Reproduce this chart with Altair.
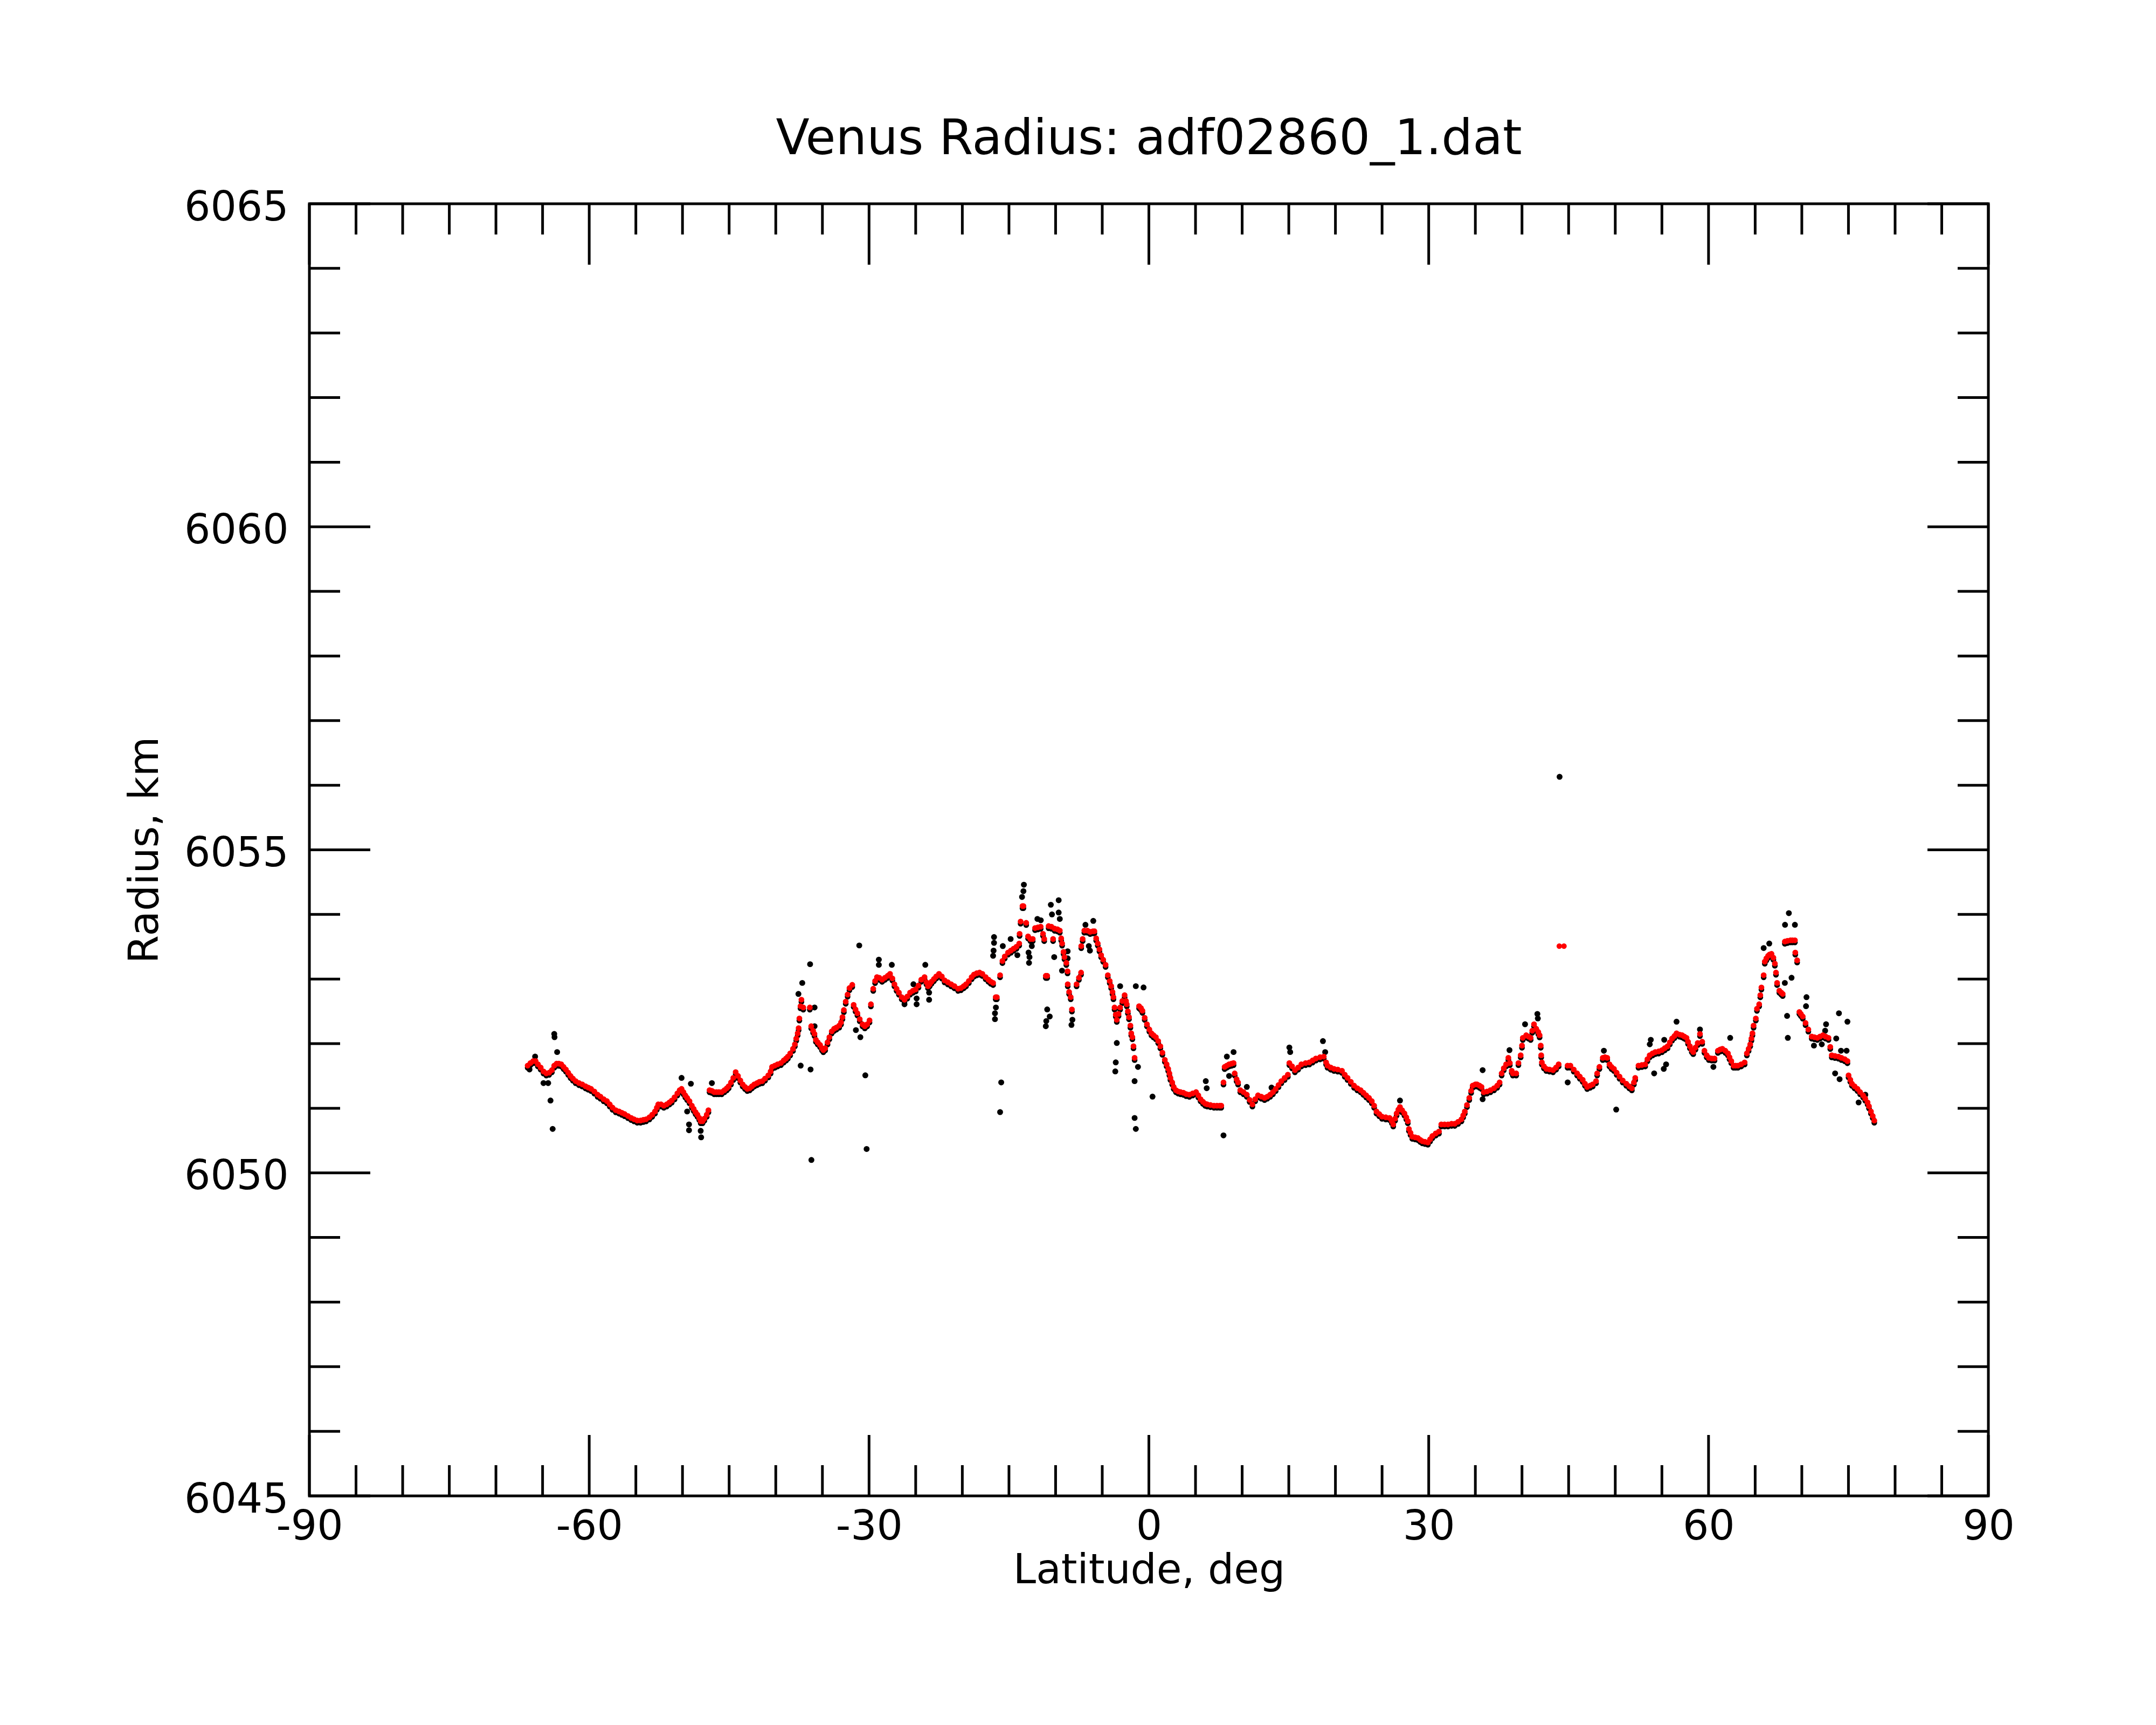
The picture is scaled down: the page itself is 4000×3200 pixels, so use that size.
import altair as alt
import pandas as pd

# ---------------- data ----------------
# smoothed radius profile (red)
red_lat = [
 -66.6, -66.3, -66.0, -65.75, -65.5, -65.2, -64.9, -64.6, -64.3, -64.0,
 -63.75, -63.5, -63.25, -63.0, -62.75, -62.5, -62.25, -62.0, -61.75, -61.45,
 -61.1, -60.75, -60.4, -60.1, -59.8, -59.45, -59.1, -58.8, -58.45, -58.1,
 -57.8, -57.5, -57.15, -56.8, -56.5, -56.2, -55.85, -55.5, -55.2, -54.85,
 -54.5, -54.2, -53.9, -53.55, -53.25, -52.95, -52.75, -52.6, -52.3, -52.0,
 -51.7, -51.4, -51.15, -50.85, -50.55, -50.3, -50.1, -49.9, -49.7, -49.5,
 -49.25, -49.0, -48.8, -48.6, -48.4, -48.2, -48.05, -47.85, -47.65, -47.4,
 -47.22, -47.1, -46.85, -46.6, -46.35, -46.1, -45.8, -45.5, -45.25, -45.05,
 -44.8, -44.55, -44.3, -44.05, -43.8, -43.55, -43.3, -43.05, -42.8, -42.55,
 -42.3, -42.0, -41.75, -41.45, -41.15, -40.8, -40.55, -40.4, -40.1, -39.8,
 -39.45, -39.15, -38.9, -38.7, -38.45, -38.15, -37.95, -37.8, -37.65, -37.55,
 -37.47, -37.35, -37.25, -37.05, -36.35, -36.2, -36.0, -35.85, -35.7, -35.5,
 -35.25, -35.05, -34.9, -34.7, -34.45, -34.25, -34.0, -33.75, -33.5, -33.2,
 -33.0, -32.85, -32.7, -32.5, -32.3, -32.1, -31.8, -31.65, -31.45, -31.25,
 -31.0, -30.7, -30.45, -30.2, -29.95, -29.8, -29.55, -29.35, -29.15, -28.9,
 -28.6, -28.3, -28.0, -27.75, -27.5, -27.28, -27.05, -26.8, -26.5, -26.2,
 -25.9, -25.6, -25.3, -25.0, -24.7, -24.4, -24.05, -23.85, -23.68, -23.5,
 -23.3, -23.05, -22.8, -22.5, -22.2, -21.9, -21.55, -21.2, -20.85, -20.45,
 -20.15, -19.85, -19.6, -19.3, -19.0, -18.75, -18.45, -18.15, -17.85, -17.5,
 -17.2, -16.95, -16.7, -16.42, -16.3, -15.95, -15.7, -15.45, -15.1, -14.8,
 -14.5, -14.2, -13.9, -13.86, -13.75, -13.55, -13.45, -13.15, -12.95, -12.7,
 -12.45, -12.2, -11.9, -11.6, -11.35, -11.22, -11.05, -10.9, -10.75, -10.45,
 -10.27, -10.1, -9.8, -9.55, -9.4, -9.3, -9.15, -9.05, -8.85, -8.72,
 -8.7, -8.55, -8.38, -8.25, -7.75, -7.5, -7.27, -7.25, -7.1, -6.92,
 -6.6, -6.3, -6.0, -5.84, -5.65, -5.48, -5.3, -5.12, -4.9, -4.64,
 -4.4, -4.2, -4.04, -3.9, -3.8, -3.68, -3.55, -3.44, -3.25, -3.08,
 -2.85, -2.6, -2.45, -2.37, -2.25, -2.13, -1.98, -1.89, -1.77, -1.65,
 -1.53, -1.05, -0.85, -0.69, -0.45, -0.21, 0.05, 0.27, 0.5, 0.75,
 1.0, 1.23, 1.45, 1.71, 1.9, 2.07, 2.2, 2.31, 2.5, 2.66,
 2.9, 3.15, 3.4, 3.7, 4.0, 4.34, 4.7, 5.06, 5.3, 5.54,
 5.8, 6.05, 6.26, 6.6, 6.98, 7.3, 7.6, 7.76, 8.0, 8.12,
 8.35, 8.6, 8.85, 9.08, 9.2, 9.4, 9.56, 9.8, 10.15, 10.5,
 10.8, 11.1, 11.4, 11.7, 12.05, 12.4, 12.7, 13.0, 13.3, 13.6,
 13.9, 14.2, 14.55, 14.9, 15.06, 15.35, 15.66, 16.0, 16.35, 16.8,
 17.2, 17.55, 17.9, 18.35, 18.75, 19.0, 19.15, 19.5, 19.85, 20.25,
 20.7, 21.0, 21.3, 21.65, 22.0, 22.35, 22.7, 23.0, 23.3, 23.6,
 23.9, 24.15, 24.4, 24.7, 25.0, 25.4, 25.8, 26.05, 26.2, 26.4,
 26.56, 26.75, 26.92, 27.15, 27.4, 27.6, 27.76, 27.88, 28.05, 28.24,
 28.55, 28.84, 29.1, 29.32, 29.6, 29.91, 30.15, 30.39, 30.75, 31.1,
 31.35, 31.7, 32.07, 32.45, 32.79, 33.15, 33.51, 33.7, 33.87, 34.1,
 34.35, 34.55, 34.71, 35.0, 35.18, 35.45, 35.66, 35.9, 36.25, 36.62,
 37.0, 37.34, 37.6, 37.82, 38.05, 38.3, 38.54, 38.7, 38.9, 39.02,
 39.38, 39.62, 39.86, 40.0, 40.09, 40.45, 40.7, 40.93, 41.1, 41.29,
 41.53, 41.75, 41.89, 42.01, 42.06, 42.13, 42.35, 42.61, 42.95, 43.33,
 43.65, 43.93, 44.89, 45.19, 45.55, 45.91, 46.2, 46.51, 46.75, 46.99,
 47.3, 47.58, 47.94, 48.06, 48.3, 48.66, 48.9, 49.14, 49.38, 49.6,
 49.86, 50.15, 50.46, 50.8, 51.18, 51.5, 51.78, 52.0, 52.14, 52.49,
 52.85, 53.21, 53.45, 53.69, 54.0, 54.29, 54.65, 55.01, 55.3, 55.61,
 55.85, 56.09, 56.35, 56.57, 56.9, 57.17, 57.4, 57.64, 57.8, 58.0,
 58.2, 58.36, 58.6, 58.84, 59.08, 59.32, 59.56, 59.8, 60.04, 60.35,
 60.64, 61.0, 61.25, 61.48, 61.8, 62.08, 62.25, 62.44, 62.68, 62.9,
 63.15, 63.5, 63.87, 64.11, 64.3, 64.47, 64.6, 64.71, 64.83, 65.07,
 65.19, 65.43, 65.55, 65.67, 65.91, 66.03, 66.2, 66.39, 66.55, 66.75,
 66.95, 67.11, 67.23, 67.35, 67.59, 67.8, 67.95, 68.18, 68.45, 68.78,
 69.0, 69.26, 69.3, 69.5, 69.74, 69.9, 70.1, 70.4, 70.7, 71.06,
 71.35, 71.66, 71.95, 72.26, 72.55, 72.86, 73.05, 73.21, 73.55, 73.93,
 74.25, 74.6, 74.89, 75.01, 75.2, 75.37, 75.65, 75.97, 76.25, 76.57,
 76.8, 77.05, 77.2, 77.41, 77.6, 77.77,
]
red_rad = [
 6051.66, 6051.70, 6051.73, 6051.73, 6051.68, 6051.63, 6051.57, 6051.54, 6051.55, 6051.59,
 6051.66, 6051.69, 6051.69, 6051.68, 6051.64, 6051.60, 6051.55, 6051.50, 6051.46, 6051.42,
 6051.39, 6051.37, 6051.34, 6051.32, 6051.30, 6051.26, 6051.21, 6051.18, 6051.14, 6051.11,
 6051.06, 6051.01, 6050.97, 6050.95, 6050.93, 6050.91, 6050.88, 6050.85, 6050.83, 6050.81,
 6050.81, 6050.82, 6050.83, 6050.86, 6050.90, 6050.95, 6051.01, 6051.06, 6051.06, 6051.04,
 6051.06, 6051.09, 6051.12, 6051.17, 6051.23, 6051.28, 6051.30, 6051.25, 6051.20, 6051.16,
 6051.11, 6051.04, 6050.99, 6050.94, 6050.90, 6050.85, 6050.80, 6050.80, 6050.84, 6050.90,
 6050.97, 6051.28, 6051.27, 6051.25, 6051.25, 6051.25, 6051.25, 6051.28, 6051.31, 6051.34,
 6051.40, 6051.47, 6051.56, 6051.50, 6051.43, 6051.37, 6051.33, 6051.30, 6051.31, 6051.34,
 6051.37, 6051.39, 6051.41, 6051.42, 6051.46, 6051.51, 6051.57, 6051.64, 6051.66, 6051.68,
 6051.70, 6051.74, 6051.77, 6051.80, 6051.85, 6051.92, 6051.99, 6052.08, 6052.16, 6052.24,
 6052.39, 6052.58, 6052.68, 6052.56, 6052.56, 6052.27, 6052.20, 6052.15, 6052.06, 6052.02,
 6051.98, 6051.93, 6051.90, 6051.93, 6052.02, 6052.10, 6052.19, 6052.23, 6052.25, 6052.28,
 6052.33, 6052.41, 6052.52, 6052.65, 6052.76, 6052.86, 6052.91, 6052.60, 6052.53, 6052.47,
 6052.38, 6052.30, 6052.27, 6052.30, 6052.36, 6052.61, 6052.85, 6052.97, 6053.03, 6053.02,
 6052.99, 6053.02, 6053.05, 6053.08, 6053.01, 6052.92, 6052.85, 6052.79, 6052.72, 6052.68,
 6052.73, 6052.79, 6052.82, 6052.84, 6052.90, 6052.99, 6053.03, 6052.95, 6052.89, 6052.92,
 6052.96, 6053.00, 6053.04, 6053.08, 6053.04, 6052.98, 6052.95, 6052.92, 6052.89, 6052.85,
 6052.86, 6052.89, 6052.92, 6052.97, 6053.03, 6053.07, 6053.09, 6053.10, 6053.08, 6053.03,
 6052.99, 6052.96, 6052.94, 6052.72, 6052.72, 6053.06, 6053.28, 6053.35, 6053.41, 6053.44,
 6053.47, 6053.50, 6053.55, 6053.70, 6053.89, 6054.13, 6054.13, 6053.87, 6053.66, 6053.62,
 6053.62, 6053.79, 6053.80, 6053.81, 6053.70, 6053.62, 6053.05, 6053.05, 6053.82, 6053.81,
 6053.62, 6053.78, 6053.77, 6053.75, 6053.63, 6053.55, 6053.42, 6053.34, 6053.25, 6053.12,
 6052.92, 6052.80, 6052.72, 6052.53, 6052.92, 6053.02, 6053.10, 6053.51, 6053.62, 6053.75,
 6053.75, 6053.73, 6053.74, 6053.74, 6053.63, 6053.55, 6053.46, 6053.37, 6053.30, 6053.22,
 6053.06, 6052.97, 6052.89, 6052.80, 6052.72, 6052.56, 6052.45, 6052.37, 6052.46, 6052.56,
 6052.66, 6052.75, 6052.66, 6052.61, 6052.50, 6052.41, 6052.28, 6052.16, 6052.10, 6051.96,
 6051.78, 6052.58, 6052.55, 6052.51, 6052.40, 6052.30, 6052.22, 6052.16, 6052.13, 6052.10,
 6052.04, 6051.96, 6051.86, 6051.75, 6051.68, 6051.61, 6051.54, 6051.47, 6051.40, 6051.33,
 6051.28, 6051.26, 6051.25, 6051.24, 6051.22, 6051.21, 6051.23, 6051.25, 6051.20, 6051.14,
 6051.10, 6051.07, 6051.06, 6051.05, 6051.04, 6051.04, 6051.04, 6051.04, 6051.40, 6051.64,
 6051.66, 6051.68, 6051.69, 6051.70, 6051.54, 6051.45, 6051.40, 6051.28, 6051.25, 6051.21,
 6051.13, 6051.06, 6051.14, 6051.20, 6051.18, 6051.16, 6051.18, 6051.21, 6051.25, 6051.30,
 6051.36, 6051.42, 6051.47, 6051.52, 6051.70, 6051.65, 6051.59, 6051.63, 6051.68, 6051.70,
 6051.71, 6051.74, 6051.77, 6051.79, 6051.80, 6051.71, 6051.66, 6051.63, 6051.61, 6051.60,
 6051.58, 6051.52, 6051.47, 6051.41, 6051.35, 6051.31, 6051.28, 6051.24, 6051.20, 6051.16,
 6051.11, 6051.04, 6050.95, 6050.91, 6050.87, 6050.86, 6050.85, 6050.80, 6050.75, 6050.84,
 6050.92, 6050.98, 6051.02, 6050.97, 6050.92, 6050.86, 6050.80, 6050.68, 6050.62, 6050.56,
 6050.55, 6050.54, 6050.51, 6050.49, 6050.48, 6050.47, 6050.52, 6050.57, 6050.61, 6050.64,
 6050.75, 6050.75, 6050.75, 6050.76, 6050.76, 6050.79, 6050.83, 6050.89, 6050.95, 6051.05,
 6051.16, 6051.27, 6051.35, 6051.37, 6051.37, 6051.35, 6051.33, 6051.25, 6051.26, 6051.28,
 6051.31, 6051.35, 6051.40, 6051.54, 6051.62, 6051.68, 6051.78, 6051.70, 6051.58, 6051.54,
 6051.54, 6051.70, 6051.82, 6051.97, 6052.09, 6052.13, 6052.11, 6052.09, 6052.20, 6052.30,
 6052.23, 6052.18, 6052.13, 6051.97, 6051.82, 6051.71, 6051.65, 6051.61, 6051.60, 6051.59,
 6051.63, 6051.68, 6051.66, 6051.66, 6051.60, 6051.54, 6051.49, 6051.44, 6051.38, 6051.33,
 6051.35, 6051.37, 6051.42, 6051.54, 6051.64, 6051.78, 6051.79, 6051.78, 6051.68, 6051.64,
 6051.61, 6051.55, 6051.49, 6051.43, 6051.38, 6051.34, 6051.31, 6051.40, 6051.47, 6051.66,
 6051.67, 6051.68, 6051.76, 6051.82, 6051.85, 6051.87, 6051.88, 6051.90, 6051.93, 6051.96,
 6052.02, 6052.08, 6052.12, 6052.16, 6052.14, 6052.13, 6052.11, 6052.09, 6052.03, 6051.96,
 6051.90, 6051.87, 6051.94, 6052.01, 6052.15, 6052.03, 6051.89, 6051.82, 6051.78, 6051.77,
 6051.77, 6051.89, 6051.91, 6051.92, 6051.89, 6051.85, 6051.79, 6051.73, 6051.66, 6051.66,
 6051.66, 6051.68, 6051.71, 6051.85, 6051.92, 6051.99, 6052.08, 6052.16, 6052.28, 6052.39,
 6052.54, 6052.61, 6052.75, 6052.87, 6053.06, 6053.27, 6053.32, 6053.36, 6053.38, 6053.39,
 6053.33, 6053.24, 6053.10, 6052.94, 6052.82, 6052.79, 6052.77, 6053.58, 6053.59, 6053.60,
 6053.60, 6053.60, 6053.41, 6053.29, 6052.49, 6052.46, 6052.42, 6052.32, 6052.22, 6052.11,
 6052.10, 6052.09, 6052.11, 6052.13, 6052.11, 6052.09, 6051.95, 6051.82, 6051.81, 6051.80,
 6051.78, 6051.76, 6051.73, 6051.51, 6051.44, 6051.38, 6051.34, 6051.30, 6051.25, 6051.20,
 6051.15, 6051.09, 6051.03, 6050.95, 6050.88, 6050.81,
]
# isolated smoothed pair near the big spike
red_extra_lat = [44.0, 44.5]
red_extra_rad = [6053.51, 6053.51]

# raw measurements that stand apart from the smoothed profile (black)
blk_lat = [
 -66.4, -65.8, -64.9, -64.4, -64.15, -63.92, -63.75, -63.72, -63.44, -50.1,
 -49.1, -49.5, -49.3, -49.3, -48.05, -48.0, -46.85, -37.57, -37.16, -36.32,
 -37.33, -36.27, -36.18, -35.84, -35.84, -31.05, -31.41, -30.93, -30.40, -30.26,
 -28.95, -28.95, -27.56, -26.2, -25.24, -24.9, -24.9, -23.97, -23.56, -23.56,
 -16.6, -16.6, -16.65, -16.7, -16.4, -16.5, -16.5, -15.83, -15.95, -13.4,
 -13.45, -13.6, -15.66, -14.82, -14.1, -12.9, -12.8, -12.85, -12.55, -11.95,
 -11.59, -10.9, -11.0, -11.05, -10.63, -10.51, -9.67, -10.39, -9.67, -9.55,
 -10.15, -8.71, -8.71, -8.2, -8.3, -9.31, -5.96, -6.8, -6.44, -6.32,
 -3.08, -3.44, -3.55, -3.6, -1.53, -1.53, -1.4, -1.4, -0.57, -1.17,
 0.39, 6.1, 6.2, 8.0, 8.36, 9.08, 8.6, 10.5, 13.15, 15.06,
 15.15, 18.66, 18.9, 26.92, 35.78, 35.78, 38.66, 40.33, 41.65, 41.7,
 44.9, 44.03, 48.78, 50.1, 53.81, 53.7, 55.25, 54.17, 55.2, 55.45,
 56.57, 59.08, 60.52, 62.32, 66.51, 65.91, 68.61, 68.2, 69.26, 68.9,
 68.18, 68.42, 68.50, 70.5, 70.45, 72.6, 72.5, 73.98, 74.89, 73.57,
 74.05, 74.2, 74.8, 76.81, 76.09, 73.69, 71.30, 72.14,
]
blk_rad = [
 6051.60, 6051.80, 6051.39, 6051.39, 6051.12, 6050.68, 6052.15, 6052.10, 6051.87, 6051.47,
 6051.38, 6050.95, 6050.75, 6050.66, 6050.65, 6050.55, 6051.39, 6052.77, 6052.94, 6053.23,
 6051.66, 6051.60, 6050.20, 6052.56, 6052.27, 6053.52, 6052.21, 6052.10, 6051.51, 6050.37,
 6053.30, 6053.22, 6053.22, 6052.61, 6052.92, 6052.70, 6052.61, 6053.22, 6052.79, 6052.68,
 6053.65, 6053.56, 6053.44, 6053.36, 6052.56, 6052.47, 6052.38, 6051.40, 6050.94, 6054.46,
 6054.36, 6054.27, 6053.51, 6053.62, 6053.37, 6053.41, 6053.34, 6053.25, 6053.51, 6053.93,
 6053.91, 6052.53, 6052.35, 6052.27, 6052.42, 6054.15, 6054.22, 6054.00, 6054.03, 6053.93,
 6053.34, 6053.43, 6053.32, 6052.37, 6052.29, 6053.13, 6053.90, 6053.84, 6053.51, 6053.44,
 6052.89, 6052.01, 6051.71, 6051.57, 6051.42, 6050.85, 6050.68, 6052.89, 6052.87, 6051.64,
 6051.18, 6051.42, 6051.31, 6050.58, 6051.80, 6051.87, 6051.50, 6051.33, 6051.32, 6051.94,
 6051.87, 6052.04, 6051.87, 6051.12, 6051.59, 6051.14, 6051.90, 6052.30, 6052.46, 6052.39,
 6051.40, 6056.13, 6051.89, 6050.98, 6052.06, 6051.99, 6052.06, 6051.54, 6051.61, 6051.68,
 6052.34, 6052.22, 6051.64, 6052.09, 6053.55, 6053.48, 6054.02, 6053.84, 6053.84, 6053.02,
 6052.94, 6052.43, 6052.09, 6052.72, 6052.58, 6052.30, 6052.20, 6052.47, 6052.34, 6051.54,
 6051.45, 6051.89, 6051.89, 6051.21, 6051.09, 6052.08, 6051.97, 6051.99,
]
assert len(red_lat) == len(red_rad)
assert len(blk_lat) == len(blk_rad)

x_major = [-90, -60, -30, 0, 30, 60, 90]
x_minor = [-85, -80, -75, -70, -65, -55, -50, -45, -40, -35, -25, -20, -15, -10, -5,
           5, 10, 15, 20, 25, 35, 40, 45, 50, 55, 65, 70, 75, 80, 85]
y_major = [6045, 6050, 6055, 6060, 6065]
y_minor = [6046, 6047, 6048, 6049, 6051, 6052, 6053, 6054, 6056, 6057, 6058, 6059,
           6061, 6062, 6063, 6064]
title_text = "Venus Radius: adf02860_1.dat"

# ---------------- chart ----------------
W, H = 3115, 2397
FONT = "DejaVu Sans"
MAJ, MIN = 113, 57
xs = alt.Scale(domain=[-90, 90], nice=False, zero=False)
ys = alt.Scale(domain=[6045, 6065], nice=False, zero=False)

red_df = pd.DataFrame({"lat": red_lat, "rad": red_rad})
red_extra_df = pd.DataFrame({"lat": red_extra_lat, "rad": red_extra_rad})
blk_df = pd.DataFrame({"lat": blk_lat, "rad": blk_rad})

x_axis = alt.Axis(values=x_major, title="Latitude, deg", ticks=False, tickSize=0,
                  domain=False, grid=False, labelFont=FONT, labelFontSize=76,
                  labelColor="black", labelPadding=20, labelFlush=False, labelLimit=0,
                  labelOverlap=False, labelExpr="'' + datum.value",
                  titleFont=FONT, titleFontSize=76, titleFontWeight="normal",
                  titleColor="black", titlePadding=6)
y_axis = alt.Axis(values=y_major, title="Radius, km", ticks=False, tickSize=0,
                  domain=False, grid=False, labelFont=FONT, labelFontSize=76,
                  labelColor="black", labelPadding=39, labelOffset=7, labelFlush=False,
                  labelLimit=0, labelOverlap=False, labelExpr="'' + datum.value",
                  titleFont=FONT, titleFontSize=76, titleFontWeight="normal",
                  titleColor="black", titlePadding=66)

X = alt.X("lat:Q", scale=xs, axis=x_axis, title="Latitude, deg")
Y = alt.Y("rad:Q", scale=ys, axis=y_axis, title="Radius, km")

shadow = alt.Chart(red_df).mark_circle(size=110, color="black", opacity=1, yOffset=4).encode(x=X, y=Y)
raw = alt.Chart(blk_df).mark_circle(size=120, color="black", opacity=1).encode(x=X, y=Y)
smooth = alt.Chart(red_df).mark_circle(size=115, color="#ff0000", opacity=1).encode(x=X, y=Y)
smooth_extra = alt.Chart(red_extra_df).mark_circle(size=105, color="#ff0000", opacity=1).encode(x=X, y=Y)


def xticks(vals, length, top):
    y0, y1 = (0, length) if top else (H, H - length)
    return alt.Chart(pd.DataFrame({"lat": vals})).mark_rule(color="black", strokeWidth=5).encode(
        x=X, y=alt.value(y0), y2=alt.value(y1))


def yticks(vals, length, left):
    x0, x1 = (0, length) if left else (W, W - length)
    return alt.Chart(pd.DataFrame({"rad": vals})).mark_rule(color="black", strokeWidth=5).encode(
        y=Y, x=alt.value(x0), x2=alt.value(x1))


ticks = [
    xticks(x_major, MAJ, True), xticks(x_major, MAJ, False),
    xticks(x_minor, MIN, True), xticks(x_minor, MIN, False),
    yticks(y_major, MAJ, True), yticks(y_major, MAJ, False),
    yticks(y_minor, MIN, True), yticks(y_minor, MIN, False),
]

title = alt.Chart(pd.DataFrame({"t": [title_text]})).mark_text(
    font=FONT, fontSize=91, color="black", align="center", baseline="alphabetic"
).encode(text="t:N", x=alt.value(W / 2), y=alt.value(-92))

chart = alt.layer(shadow, raw, smooth, smooth_extra, *ticks, title).properties(
    width=W, height=H,
    autosize=alt.AutoSizeParams(type="none"),
    padding={"left": 566, "top": 370, "right": 303, "bottom": 417},
    background="white",
).configure(font=FONT).configure_view(stroke="black", strokeWidth=5)

chart.save("out.html", embed_options={"renderer": "svg", "actions": False})
